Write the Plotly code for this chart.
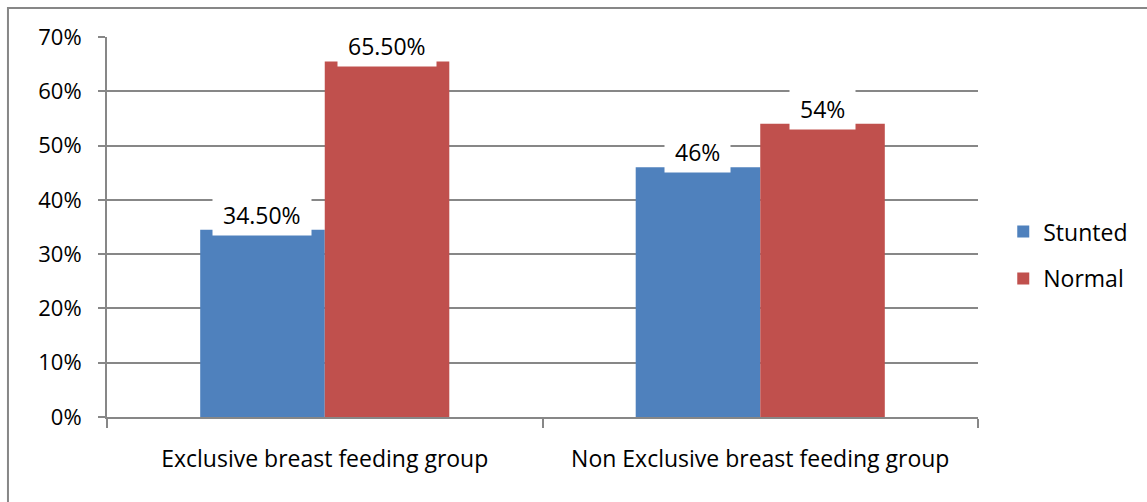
import plotly.graph_objects as go

# Chart data
groups = ["Exclusive breast feeding group", "Non Exclusive breast feeding group"]
stunted = [34.5, 46.0]
normal = [65.5, 54.0]
stunted_labels = ["34.50%", "46%"]
normal_labels = ["65.50%", "54%"]
y_ticks = [0, 10, 20, 30, 40, 50, 60, 70]
y_tick_text = ["0%", "10%", "20%", "30%", "40%", "50%", "60%", "70%"]

BLUE = "#4F81BD"
RED = "#C0504D"
GRID = "#878787"
FONT = "Open Sans"
BARGAP = 0.428
NBSP = "\u00a0"

fig = go.Figure()
fig.add_trace(go.Bar(name="Stunted", x=groups, y=stunted, marker_color=BLUE,
                     marker_line_width=0, legendgroup="s"))
fig.add_trace(go.Bar(name="Normal", x=groups, y=normal, marker_color=RED,
                     marker_line_width=0, legendgroup="n"))

# value labels in white boxes sitting on top of each bar
half = (1 - BARGAP) / 4
for i in range(len(groups)):
    for off, val, lab in ((-half, stunted[i], stunted_labels[i]),
                          (half, normal[i], normal_labels[i])):
        fig.add_annotation(x=i + off, y=val, xref="x", yref="y",
                           text=NBSP + lab + NBSP,
                           showarrow=False, yanchor="bottom", yshift=-6,
                           bgcolor="white", borderpad=4,
                           font=dict(family=FONT, size=23, color="black"))

# outer frame of the chart area
fig.add_shape(type="rect", xref="paper", yref="paper",
              x0=-0.1137, x1=1.3, y0=-0.4, y1=1.0763,
              line=dict(color=GRID, width=2), fillcolor="rgba(0,0,0,0)", layer="below")

fig.update_layout(
    width=1147, height=502,
    margin=dict(l=107, r=169, t=37, b=85),
    paper_bgcolor="white", plot_bgcolor="white",
    barmode="group", bargap=BARGAP, bargroupgap=0,
    font=dict(family=FONT, color="black"),
    legend=dict(x=1.029, xanchor="left", y=0.426, yanchor="middle",
                font=dict(family=FONT, size=23), tracegroupgap=14,
                traceorder="grouped", bgcolor="rgba(0,0,0,0)"),
    xaxis=dict(type="category", showline=True, linecolor=GRID, linewidth=2,
               ticks="outside", tickson="boundaries", ticklen=9, tickwidth=2,
               tickcolor=GRID, tickfont=dict(family=FONT, size=23),
               ticklabelstandoff=20,
               showgrid=False, zeroline=False),
    yaxis=dict(range=[0, 70], tickmode="array", tickvals=y_ticks, ticktext=y_tick_text,
               showline=True, linecolor=GRID, linewidth=2,
               ticks="outside", ticklen=7, tickwidth=2, tickcolor=GRID,
               ticklabelstandoff=12,
               showgrid=True, gridcolor=GRID, gridwidth=2, zeroline=False,
               tickfont=dict(family=FONT, size=22)),
)

fig.write_html("out.html")
